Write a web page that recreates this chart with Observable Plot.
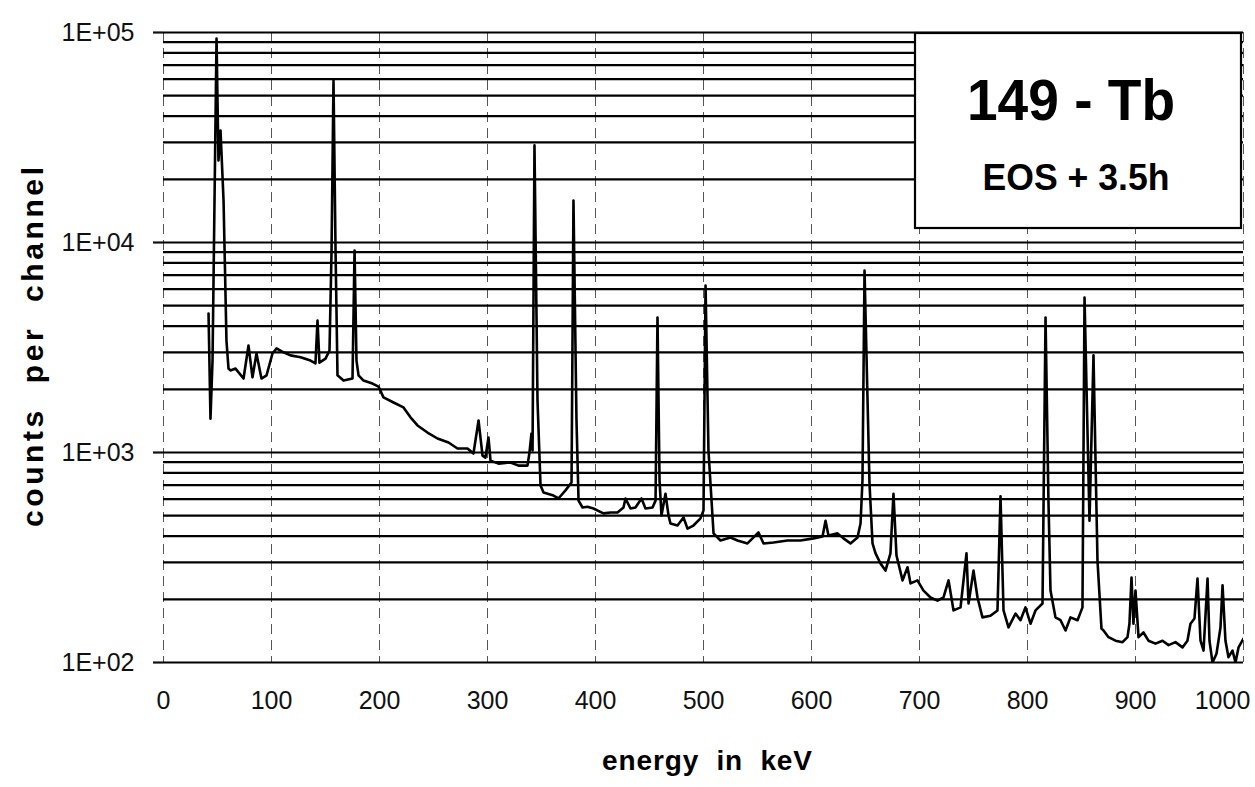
<!DOCTYPE html>
<html><head><meta charset="utf-8">
<script src="https://cdn.jsdelivr.net/npm/d3@7"></script>
<script src="https://cdn.jsdelivr.net/npm/@observablehq/plot@0.6"></script>
<style>
html,body{margin:0;padding:0;background:#fff;}
#chart{position:relative;width:1255px;height:787px;}
</style></head><body><div id="chart"></div>
<script>
// ---- data ----
const xTicks = [0, 100, 200, 300, 400, 500, 600, 700, 800, 900, 1000];
const yDecades = [100, 1000, 10000, 100000];
const yGrid = [100,200,300,400,500,600,700,800,900,
               1000,2000,3000,4000,5000,6000,7000,8000,9000,
               10000,20000,30000,40000,50000,60000,70000,80000,90000,100000];
const titleText = "149 - Tb";
const subtitleText = "EOS + 3.5h";
const xLabel = "energy  in  keV";
const yLabel = "counts  per  channel";

// spectrum: [energy keV, counts per channel]
const spectrum = [
[41.7,4590],[43.5,1450],[45.4,2740],[49.1,93500],[50.9,24600],[52.8,34100],[55.6,15850],[58.3,3410],
[60.2,2510],[62.0,2460],[66.7,2510],[74.1,2250],[78.7,3230],[82.4,2280],[86.1,2960],[90.7,2250],
[95.4,2330],[100.9,2960],[104.6,3130],[111.1,3000],[117.6,2900],[126.9,2840],[136.1,2740],[140.7,2660],
[142.6,4250],[144.4,2680],[150.0,2800],[153.7,3060],[155.6,9150],[157.4,59000],[159.3,9150],[161.1,2330],
[166.7,2200],[175.0,2250],[176.9,9150],[178.7,2740],[180.6,2330],[185.2,2200],[193.5,2130],[199.1,2060],
[203.7,1830],[213.0,1730],[222.2,1640],[228.7,1470],[235.2,1345],[244.4,1245],[253.7,1166],[263.9,1116],
[272.2,1045],[281.5,1045],[287.0,989],[291.7,1420],[295.4,967],[298.1,946],[300.9,1179],[302.8,915],
[310.2,885],[321.3,896],[328.7,866],[337.0,866],[338.9,1000],[340.7,1232],[341.7,1022],[343.5,29000],
[346.3,1770],[349.1,696],[351.9,645],[361.1,624],[365.7,604],[372.2,660],[377.8,720],[379.6,15850],
[382.4,1420],[384.3,590],[388.0,547],[392.6,552],[398.1,541],[407.4,513],[413.9,518],[420.4,518],
[425.9,547],[427.8,604],[432.4,541],[437.0,547],[442.6,604],[446.3,541],[452.8,547],[455.6,590],
[457.4,4390],[459.3,733],[461.1,502],[464.8,636],[467.6,502],[469.4,459],[475.9,449],[481.5,490],
[485.2,434],[490.7,449],[497.2,486],[500.0,529],[501.9,6240],[504.6,1022],[509.3,412],[515.7,381],
[525.0,394],[531.5,381],[540.7,369],[546.3,394],[550.9,416],[555.6,369],[564.8,373],[577.8,381],
[589.8,381],[601.9,390],[610.2,398],[613.0,473],[615.7,402],[624.1,412],[629.6,390],[636.1,369],
[642.6,394],[645.4,459],[647.2,736],[649.1,7360],[651.9,1770],[653.7,712],[656.5,369],[659.3,331],
[663.9,296],[668.5,274],[673.1,331],[675.9,636],[678.7,323],[684.3,246],[688.9,284],[691.7,238],
[698.1,246],[703.7,220],[710.2,204],[716.7,197],[722.2,204],[726.9,246],[731.5,177],[738.0,183],
[743.5,331],[745.4,191],[750.0,274],[753.7,204],[758.3,164],[765.7,167],[772.2,177],[775.0,618],
[777.8,177],[782.4,147],[788.9,171],[793.5,159],[798.1,183],[802.8,153],[807.4,177],[813.9,191],
[816.7,4390],[819.4,590],[821.3,220],[825.9,164],[830.6,159],[835.2,142],[839.8,164],[846.3,159],
[850.9,183],[852.8,5470],[857.4,473],[861.1,2900],[864.8,306],[868.5,145],[870.4,142],[875.0,132],
[881.5,127],[888.0,125],[892.6,132],[894.4,153],[896.3,254],[898.1,153],[900.0,220],[902.8,132],
[907.4,139],[912.0,127],[918.5,123],[925.0,127],[930.6,121],[937.0,125],[943.5,118],[948.1,127],
[950.9,153],[954.6,162],[957.4,251],[960.2,127],[963.0,114],[966.7,251],[968.5,127],[971.3,100],
[975.0,110],[978.7,147],[980.6,233],[983.3,127],[986.1,106],[989.8,114],[992.6,100],[995.4,118],
[1000,130]
];

// ---- chart ----
const W = 1255, H = 787;
const font = "'Liberation Sans', Arial, Helvetica, sans-serif";
const chart = Plot.plot({
  width: W, height: H,
  marginLeft: 163, marginRight: 12, marginTop: 32, marginBottom: 125,
  x: {domain: [0, 1000]},
  y: {type: "log", domain: [100, 100000]},
  style: {fontFamily: font, fontSize: "25px", color: "#111", background: "#fff", overflow: "visible"},
  marks: [
    Plot.ruleX(xTicks, {stroke: "#555", strokeWidth: 1, strokeDasharray: "10,6"}),
    Plot.ruleY(yGrid, {stroke: "#000", strokeWidth: 2.2}),
    Plot.line(spectrum, {x: d => d[0], y: d => d[1], stroke: "#000", strokeWidth: 2.6, clip: true}),
    Plot.axisY({ticks: yDecades, tickSize: 10, tickPadding: 19, strokeWidth: 2.2, fontSize: 25,
      tickFormat: d => "1E+0" + Math.round(Math.log10(d)), label: null}),
    Plot.axisX({ticks: xTicks.filter(d => d < 1000), tickSize: 0, tickPadding: 29, fontSize: 25,
      tickFormat: d => String(d), label: null}),
    Plot.axisX({ticks: xTicks.filter(d => d >= 1000), tickSize: 0, tickPadding: 29, fontSize: 25,
      dx: -21, tickFormat: d => String(d), label: null})
  ]
});
document.getElementById("chart").appendChild(chart);

const svg = d3.select(chart);
// legend box
svg.append("rect").attr("x", 915).attr("y", 33).attr("width", 326).attr("height", 195)
  .attr("fill", "#fff").attr("stroke", "#000").attr("stroke-width", 2.2);
svg.append("text").attr("x", 1071).attr("y", 120).attr("text-anchor", "middle")
  .attr("font-family", font).attr("font-weight", "bold").attr("font-size", 58)
  .attr("textLength", 208).attr("lengthAdjust", "spacingAndGlyphs").attr("fill", "#000")
  .text(titleText);
svg.append("text").attr("x", 1076).attr("y", 190).attr("text-anchor", "middle")
  .attr("font-family", font).attr("font-weight", "bold").attr("font-size", 37)
  .attr("textLength", 187).attr("lengthAdjust", "spacingAndGlyphs").attr("fill", "#000")
  .text(subtitleText);
// axis titles
svg.append("text").attr("x", 707).attr("y", 770).attr("text-anchor", "middle")
  .attr("font-family", font).attr("font-weight", "bold").attr("font-size", 28)
  .attr("textLength", 210).attr("fill", "#000").text(xLabel);
svg.append("text").attr("transform", "translate(43,347) rotate(-90)").attr("text-anchor", "middle")
  .attr("font-family", font).attr("font-weight", "bold").attr("font-size", 30)
  .attr("textLength", 360).attr("fill", "#000").text(yLabel);
</script></body></html>
